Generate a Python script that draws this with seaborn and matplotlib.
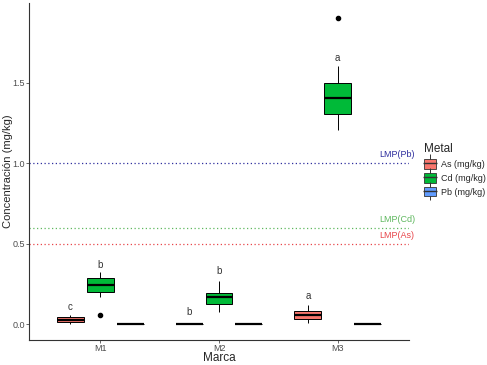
import pandas as pd
import numpy as np
import matplotlib
matplotlib.use("Agg")
import matplotlib.pyplot as plt
from matplotlib.patches import Patch
from matplotlib.lines import Line2D
import seaborn as sns

# Datos
marcas = ["M1", "M2", "M3"]
metales = ["As (mg/kg)", "Cd (mg/kg)", "Pb (mg/kg)"]

m1_as = [0.0, 0.01, 0.015, 0.02, 0.027, 0.035, 0.043, 0.05, 0.058]
m1_cd = [0.056, 0.17, 0.20, 0.22, 0.242, 0.26, 0.287, 0.30, 0.323]
m1_pb = [0.0] * 9
m2_as = [0.0] * 9
m2_cd = [0.075, 0.10, 0.124, 0.15, 0.171, 0.185, 0.196, 0.23, 0.269]
m2_pb = [0.0] * 9
m3_as = [0.006, 0.02, 0.033, 0.05, 0.06, 0.07, 0.085, 0.10, 0.12]
m3_cd = [1.207, 1.25, 1.306, 1.35, 1.404, 1.45, 1.503, 1.604, 1.904]
m3_pb = [0.0] * 9

# Letras de significancia (marca, metal, letra, posición y)
letras_marca = ["M1", "M1", "M2", "M2", "M3", "M3"]
letras_metal = ["As (mg/kg)", "Cd (mg/kg)", "As (mg/kg)", "Cd (mg/kg)", "As (mg/kg)", "Cd (mg/kg)"]
letras = ["c", "b", "b", "b", "a", "a"]
letras_y = [0.11, 0.37, 0.075, 0.331, 0.178, 1.658]

# Límites máximos permisibles
lmp_nombre = ["LMP(Pb)", "LMP(Cd)", "LMP(As)"]
lmp_valor = [1.0, 0.6, 0.5]
lmp_color = ["#2E2E9E", "#5FB85F", "#E8454A"]

colores = ["#F8766D", "#00BA38", "#619CFF"]

grupos = {
    ("M1", "As (mg/kg)"): m1_as, ("M1", "Cd (mg/kg)"): m1_cd, ("M1", "Pb (mg/kg)"): m1_pb,
    ("M2", "As (mg/kg)"): m2_as, ("M2", "Cd (mg/kg)"): m2_cd, ("M2", "Pb (mg/kg)"): m2_pb,
    ("M3", "As (mg/kg)"): m3_as, ("M3", "Cd (mg/kg)"): m3_cd, ("M3", "Pb (mg/kg)"): m3_pb,
}
filas = []
for (marca, metal), vals in grupos.items():
    for v in vals:
        filas.append((marca, metal, v))
df = pd.DataFrame(filas, columns=["Marca", "Metal", "Conc"])

sns.set_style("ticks")
plt.rcParams["font.family"] = ["Liberation Sans", "DejaVu Sans"]

fig = plt.figure(figsize=(4.87, 3.65), dpi=100)
ax = fig.add_axes([29 / 487, 1 - 340 / 365, (409 - 29) / 487, (340 - 3) / 365])

ancho = 0.756
sns.boxplot(data=df, x="Marca", y="Conc", hue="Metal", order=marcas, hue_order=metales,
            palette=colores, saturation=1, width=ancho, gap=0.1, linecolor="black",
            linewidth=0.7, fliersize=3, showcaps=False, legend=False,
            flierprops={"marker": "o", "markerfacecolor": "black", "markeredgecolor": "black"},
            medianprops={"linewidth": 1.6}, ax=ax)

# Líneas LMP
for nombre, valor, color in zip(lmp_nombre, lmp_valor, lmp_color):
    ax.axhline(valor, color=color, linestyle=(0, (1, 2)), linewidth=0.9, zorder=0)
    ax.text(2.5, valor + 0.025, nombre, color=color, fontsize=6.5, ha="center",
            va="bottom", clip_on=False)

# Letras
paso = ancho / len(metales)
for marca, metal, letra, yv in zip(letras_marca, letras_metal, letras, letras_y):
    xv = marcas.index(marca) + (metales.index(metal) - 1) * paso
    ax.text(xv, yv, letra, fontsize=7, color="#333333", ha="center", va="center")

ax.set_xlim(-0.6, 2.6)
ax.set_ylim(-0.097, 1.997)
ax.set_yticks([0.0, 0.5, 1.0, 1.5])
ax.set_yticklabels(["0.0", "0.5", "1.0", "1.5"])
ax.tick_params(axis="both", labelsize=6.5, labelcolor="#4D4D4D", color="#4D4D4D",
               length=2, width=0.6, pad=1)
for s in ["left", "bottom"]:
    ax.spines[s].set_color("#333333")
    ax.spines[s].set_linewidth(0.8)
sns.despine(ax=ax)
ax.set_xlabel("Marca", fontsize=8.5)
ax.set_ylabel("Concentración (mg/kg)", fontsize=8)
ax.yaxis.set_label_coords(-0.042, 0.5)
ax.xaxis.set_label_coords(0.5, -0.036)

# Leyenda con claves tipo boxplot
handles = []
for c in colores:
    handles.append((Line2D([0], [0], marker="|", markersize=13, color="#333333",
                           markeredgewidth=0.7, linestyle=""),
                    Patch(facecolor=c, edgecolor="#333333", linewidth=0.6),
                    Line2D([0], [0], marker="_", markersize=10, color="#333333",
                           markeredgewidth=1.0, linestyle="")))
leg = ax.legend(handles, metales, title="Metal", loc="upper left",
                bbox_to_anchor=(1.03, 0.595),
                frameon=False, fontsize=6.5, title_fontsize=8.5, handlelength=1.3,
                handleheight=1.25, labelspacing=0.45, handletextpad=0.6, borderaxespad=0)
leg._legend_box.align = "left"

fig.savefig("out.png", dpi=100)
